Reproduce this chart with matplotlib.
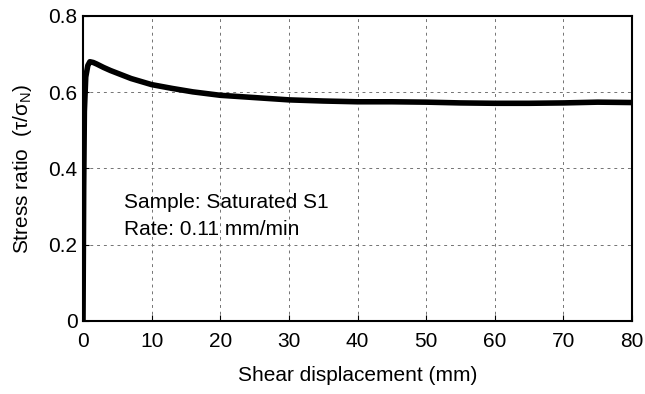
import matplotlib.pyplot as plt

plt.rcParams['font.family'] = ['Liberation Sans', 'DejaVu Sans']

# Shear displacement (mm) and stress ratio
disp = [0, 0.1, 0.2, 0.4, 0.7, 1.0, 1.5, 2, 3, 4, 5, 7, 10, 13, 16, 20, 25, 30,
        35, 40, 45, 50, 55, 60, 65, 70, 75, 80]
ratio = [0, 0.35, 0.55, 0.64, 0.67, 0.68, 0.678, 0.674, 0.665, 0.657, 0.65,
         0.636, 0.62, 0.61, 0.601, 0.592, 0.586, 0.58, 0.577, 0.575, 0.575,
         0.574, 0.572, 0.571, 0.571, 0.572, 0.574, 0.573]

xticks = [0, 10, 20, 30, 40, 50, 60, 70, 80]
yticks = [0, 0.2, 0.4, 0.6, 0.8]
ytick_labels = ['0', '0.2', '0.4', '0.6', '0.8']

fig = plt.figure(figsize=(6.45, 3.94), dpi=100)
ax = fig.add_axes([0.1287, 0.1853, 0.8512, 0.7741])

ax.plot(disp, ratio, color='black', lw=4, solid_joinstyle='round')

ax.set_xlim(0, 80)
ax.set_ylim(0, 0.8)
ax.set_xticks(xticks)
ax.set_yticks(yticks)
ax.set_yticklabels(ytick_labels)
ax.tick_params(direction='in', length=4, width=0.8, labelsize=15)
ax.tick_params(axis='x', pad=8)
ax.tick_params(axis='y', pad=4)
ax.grid(True, color='0.45', linestyle=(0, (3, 4)), lw=0.7)

for s in ax.spines.values():
    s.set_linewidth(1.5)

ax.set_xlabel('Shear displacement (mm)', fontsize=15, labelpad=11)
ax.set_ylabel('Stress ratio  (τ/σ$_\\mathregular{N}$)', fontsize=15, labelpad=10)

ax.text(5.9, 0.31, 'Sample: Saturated S1', fontsize=15, va='center', ha='left')
ax.text(5.9, 0.239, 'Rate: 0.11 mm/min', fontsize=15, va='center', ha='left')

fig.savefig('out.png', dpi=100)
